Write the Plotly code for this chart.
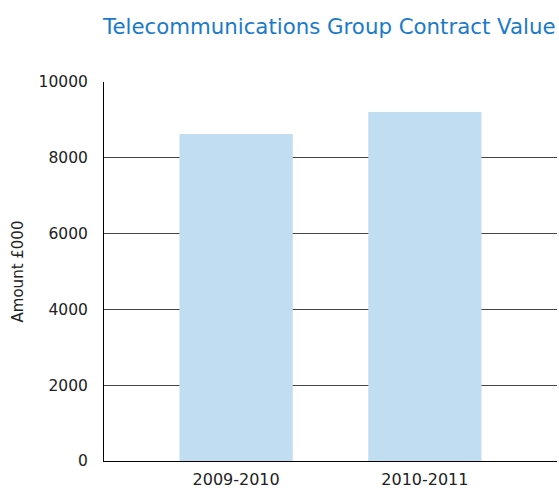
import plotly.graph_objects as go

categories = ["2009-2010", "2010-2011"]
values = [8630, 9210]
y_ticks = [0, 2000, 4000, 6000, 8000, 10000]

fig = go.Figure()
fig.add_trace(go.Bar(
    x=categories, y=values,
    marker=dict(color="#c1ddf1", line=dict(width=0)),
    hoverinfo="x+y",
))

fig.update_layout(
    width=559, height=490,
    margin=dict(l=104, r=2, t=82, b=29),
    paper_bgcolor="white", plot_bgcolor="white",
    bargap=0.4,
    showlegend=False,
    font=dict(family="DejaVu Sans, Verdana, sans-serif", color="#222222", size=16),
    title=dict(
        text="Telecommunications Group Contract Value",
        x=103/559, xref="container", xanchor="left",
        y=1 - 27/490, yref="container", yanchor="middle",
        font=dict(size=21.3, color="#1a7acb"),
    ),
)
fig.update_xaxes(
    type="category", range=[-0.7, 1.7], automargin=False,
    showline=True, linecolor="black", linewidth=1,
    showgrid=False, ticks="", tickfont=dict(size=16),
    ticklabelstandoff=4,
)
fig.update_yaxes(
    range=[0, 10000], tickvals=y_ticks, tickformat="d", automargin=False,
    showline=True, linecolor="black", linewidth=1,
    showgrid=True, gridcolor="#444444", gridwidth=1,
    zeroline=False, ticks="", ticklen=0, tickfont=dict(size=15.5),
    ticklabelstandoff=12,
    title=dict(text="Amount £000", font=dict(size=15), standoff=11),
)

fig.write_html(
    "out.html",
    config={"displayModeBar": False},
    post_script="document.body.style.margin='0';document.body.style.overflow='hidden';",
)
